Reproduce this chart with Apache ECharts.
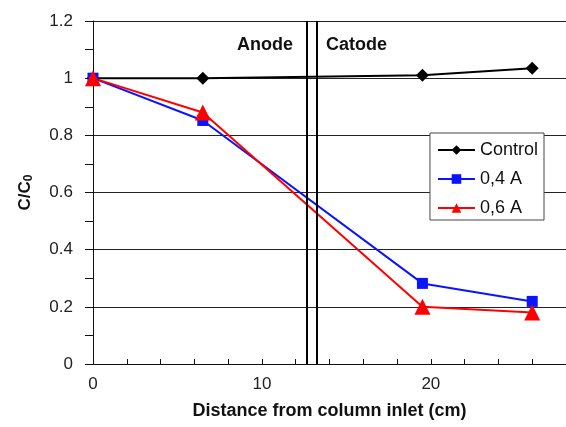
<!DOCTYPE html>
<html>
<head>
<meta charset="utf-8">
<script src="https://cdn.jsdelivr.net/npm/echarts@6/dist/echarts.min.js"></script>
<style>
  html, body { margin: 0; padding: 0; background: #fff; }
  #chart { width: 566px; height: 427px; }
</style>
</head>
<body>
<div id="chart"></div>
<script>
// distance from column inlet (cm)
const distances = [0, 6.5, 19.5, 26];
const control = [1.0, 1.0, 1.01, 1.035];
const current04 = [1.0, 0.852, 0.282, 0.219];
const current06 = [1.0, 0.88, 0.2, 0.18];
// electrode boundary (cm)
const boundary = [12.68, 13.27];

const font = 'Liberation Sans, Arial, sans-serif';
const pairs = (ys) => distances.map((x, i) => [x, ys[i]]);

const chart = echarts.init(document.getElementById('chart'));
chart.setOption({
  animation: false,
  grid: { left: 93, top: 21, right: 0, bottom: 63, outerBoundsMode: 'none' },
  legend: {
    right: 22,
    top: 133,
    orient: 'vertical',
    backgroundColor: '#fff',
    borderColor: '#444',
    borderWidth: 1,
    borderRadius: 0,
    padding: [8, 6, 3, 7],
    itemGap: 11,
    itemWidth: 37,
    itemHeight: 12,
    textStyle: { fontFamily: font, fontSize: 18, color: '#111' },
    data: ['Control', '0,4 A', '0,6 A']
  },
  xAxis: {
    type: 'value',
    min: 0,
    max: 28,
    interval: 2,
    name: 'Distance from column inlet (cm)',
    nameLocation: 'middle',
    nameGap: 38,
    nameTextStyle: { fontFamily: font, fontSize: 18, fontWeight: 'bold', color: '#111' },
    axisLine: { lineStyle: { color: '#111', width: 1 } },
    axisTick: { inside: true, length: 5, lineStyle: { color: '#111' } },
    axisLabel: {
      fontFamily: font, fontSize: 17, color: '#222', margin: 12,
      formatter: (v) => (v % 10 === 0 ? String(v) : '')
    },
    splitLine: { show: false }
  },
  yAxis: {
    type: 'value',
    min: 0,
    max: 1.2,
    interval: 0.2,
    name: '{b|C/C}{s|0}',
    nameLocation: 'middle',
    nameGap: 58,
    nameRotate: 90,
    nameTextStyle: {
      rich: {
        b: { fontFamily: font, fontSize: 17, fontWeight: 'bold', color: '#111' },
        s: { fontFamily: font, fontSize: 12, fontWeight: 'bold', color: '#111', padding: [8, 0, 0, 0] }
      }
    },
    axisLine: { show: true, lineStyle: { color: '#111', width: 1 } },
    axisTick: { show: true, length: 8, lineStyle: { color: '#111' } },
    minorTick: { show: true, splitNumber: 2, length: 8, lineStyle: { color: '#111' } },
    axisLabel: {
      fontFamily: font, fontSize: 17, color: '#222', margin: 20,
      formatter: (v) => String(Math.round(v * 10) / 10)
    },
    splitLine: { show: true, lineStyle: { color: '#222', width: 1 } }
  },
  graphic: [
    { type: 'text', left: 237, top: 36, style: { text: 'Anode', fontFamily: font, fontSize: 18, fontWeight: 'bold', fill: '#111' } },
    { type: 'text', left: 326, top: 36, style: { text: 'Catode', fontFamily: font, fontSize: 18, fontWeight: 'bold', fill: '#111' } }
  ],
  series: [
    {
      name: 'Control',
      type: 'line',
      data: pairs(control),
      symbol: 'diamond',
      symbolSize: 13,
      itemStyle: { color: '#000' },
      lineStyle: { color: '#000', width: 2 },
      markLine: {
        silent: true,
        symbol: 'none',
        label: { show: false },
        lineStyle: { color: '#000', width: 2, type: 'solid' },
        data: boundary.map((x) => ({ xAxis: x }))
      }
    },
    {
      name: '0,4 A',
      type: 'line',
      data: pairs(current04),
      symbol: 'rect',
      symbolSize: 11,
      itemStyle: { color: '#0a14ff' },
      lineStyle: { color: '#0a14ff', width: 2 }
    },
    {
      name: '0,6 A',
      type: 'line',
      data: pairs(current06),
      symbol: 'triangle',
      symbolSize: 16,
      itemStyle: { color: '#ff0000' },
      lineStyle: { color: '#ff0000', width: 2 }
    }
  ]
});
</script>
</body>
</html>
